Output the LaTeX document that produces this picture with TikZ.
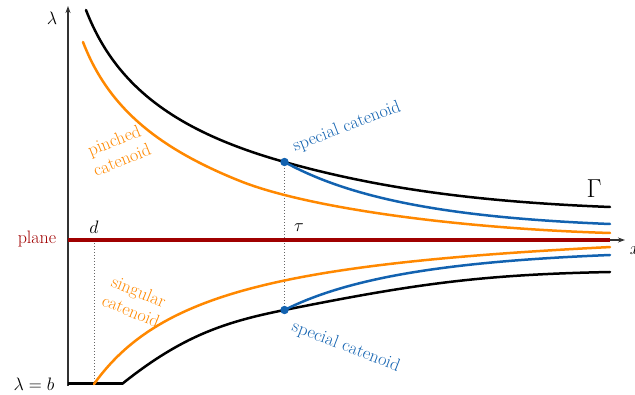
\RequirePackage{fix-cm}
\documentclass[tikz,border=0pt]{standalone}
\usepackage{fontspec}
\usetikzlibrary{arrows.meta}
\definecolor{corange}{RGB}{255,136,0}
\definecolor{cblue}{RGB}{18,98,176}
\definecolor{cred}{RGB}{160,0,0}
\definecolor{caxis}{RGB}{50,50,50}
\begin{document}
\begin{tikzpicture}[x=1pt,y=-1pt,
  every node/.style={font=\fontsize{18}{21}\selectfont, inner sep=0pt},
  curve/.style={line width=2.5pt, line cap=round},
  axisline/.style={caxis, line width=1.2pt},
  guide/.style={gray!80!black, dotted, line width=1pt},
  lbl/.style={align=center}]
\useasboundingbox (0,0) rectangle (635,395);

% named points
\coordinate (T1) at (284.5,162);
\coordinate (T2) at (284.5,310);
\coordinate (D1) at (94,240);
\coordinate (D2) at (94,384);
\coordinate (O) at (68,240);
\coordinate (Ybot) at (68,386);
\coordinate (Ytop) at (68,6);
\coordinate (Xend) at (625,240);
\coordinate (Pend) at (610,240);
\coordinate (B1) at (68,384);
\coordinate (B2) at (122,384);
\coordinate (GA) at (86,10);
\coordinate (GB) at (610,207);
\coordinate (PA) at (83,42);
\coordinate (PS) at (240,181);
\coordinate (PB) at (610,233);
\coordinate (SB1) at (610,224);
\coordinate (LB) at (610,272);
\coordinate (SB2) at (610,255);

% guides
\draw[guide] (T1) -- (T2);
\draw[guide] (D1) -- (D2);

% axes
\draw[axisline, -{Stealth[length=7pt,width=5pt]}] (Ybot) -- (Ytop);
\draw[axisline, -{Stealth[length=7pt,width=5pt]}] (O) -- (Xend);

% plane
\draw[cred, line width=3.8pt] (O) -- (Pend);

% bottom segment
\draw[black, line width=3pt] (B1) -- (B2);

% upper curves
\draw[curve, black] (GA) .. controls (115.1,85.6) and (174.7,131.2) .. (T1)
                         .. controls (378,188.2) and (475.6,201.7) .. (GB);
\draw[curve, corange] (PA) .. controls (107.2,105) and (154.3,146.7) .. (PS)
                           .. controls (306.3,207.5) and (454.3,228.3) .. (PB);
\draw[curve, cblue] (T1) .. controls (351.8,199) and (449.4,217.6) .. (SB1);

% lower curves
\draw[curve, corange] plot[domain=94:610, samples=120, smooth] (\x, {215.1 + 100*(203.28/(\x+26.3))});
\draw[curve, black] (B2) .. controls (182,336) and (224.5,322) .. (T2)
                         .. controls (414.5,284) and (480,274.6) .. (LB);
\draw[curve, cblue] (T2) .. controls (348.4,277.8) and (445.8,261.6) .. (SB2);

% dots
\fill[cblue] (T1) circle (4.2pt);
\fill[cblue] (T2) circle (4.2pt);

% labels
\node (lam) at (52,18) {$\lambda$};
\node (xl) at (635,251) {$x$};
\node[cred, anchor=base] (plane) at (37,244) {plane};
\node (lb) at (34,384) {$\lambda=b$};
\node (d) at (94,227) {$d$};
\node (tau) at (299,228) {$\tau$};
\node[font=\fontsize{26}{30}\selectfont] (G) at (594,189) {$\Gamma$};
\node[cblue, rotate=21] (sc1) at (347,127) {special catenoid};
\node[cblue, rotate=-21] (sc2) at (346,347) {special catenoid};
\node[corange, lbl, rotate=22] (pc) at (118,150) {pinched\\catenoid};
\node[corange, lbl, rotate=-22] (sg) at (135,301) {singular\\catenoid};
\end{tikzpicture}
\end{document}
